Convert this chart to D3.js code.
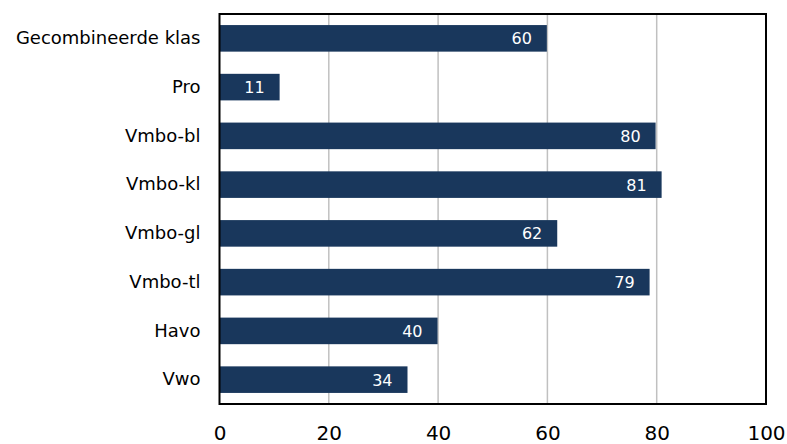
<!DOCTYPE html>
<html><head><meta charset="utf-8">
<script src="https://d3js.org/d3.v7.min.js"></script>
<style>body{margin:0;background:#fff}svg{display:block}</style>
</head><body>
<script>
const categories = ["Gecombineerde klas","Pro","Vmbo-bl","Vmbo-kl","Vmbo-gl","Vmbo-tl","Havo","Vwo"];
const values = [59.9,11.0,79.8,80.9,61.8,78.7,39.9,34.4];
const xTicks = [0,20,40,60,80,100];

const W=787,H=444;
const m={left:219.5,right:21,top:14,bottom:40};
const svg=d3.select("body").append("svg").attr("width",W).attr("height",H);
const x=d3.scaleLinear().domain([0,100]).range([m.left,W-m.right]);
const y=d3.scaleBand().domain(categories).range([m.top,H-m.bottom]).paddingInner(0.455).paddingOuter(0.227);
const font="Tahoma, 'DejaVu Sans', Verdana, sans-serif";

// gridlines
svg.append("g").selectAll("line").data(xTicks.filter(d=>d>0&&d<100)).join("line")
 .attr("x1",d=>x(d)).attr("x2",d=>x(d)).attr("y1",m.top).attr("y2",H-m.bottom)
 .attr("stroke","#c0c0c0").attr("stroke-width",1.5);

// bars
svg.append("g").selectAll("rect").data(values).join("rect")
 .attr("x",x(0)).attr("y",(d,i)=>y(categories[i]))
 .attr("width",d=>x(d)-x(0)).attr("height",y.bandwidth())
 .attr("fill","#19375c");

// value labels
svg.append("g").selectAll("text").data(values).join("text")
 .attr("x",d=>x(d)-15).attr("y",(d,i)=>y(categories[i])+y.bandwidth()/2)
 .attr("dy","0.37em").attr("text-anchor","end").attr("fill","#fff")
 .style("font-family",font).style("font-size","16px").text(d=>d3.format(".0f")(d));

// frame
svg.append("rect").attr("x",x(0)).attr("y",m.top).attr("width",x(100)-x(0)).attr("height",H-m.bottom-m.top)
 .attr("fill","none").attr("stroke","#000").attr("stroke-width",2);

// x axis
const xa=svg.append("g").attr("transform",`translate(0,${H-m.bottom})`).call(d3.axisBottom(x).tickValues(xTicks).tickSize(0).tickPadding(22));
xa.select(".domain").remove();
xa.selectAll("text").style("font-family",font).style("font-size","20px").attr("fill","#000");

// y axis
const ya=svg.append("g").attr("transform",`translate(${m.left},0)`).call(d3.axisLeft(y).tickSize(0).tickPadding(19));
ya.select(".domain").remove();
ya.selectAll("text").style("font-family",font).style("font-size","18px").attr("fill","#000");
</script>
</body></html>
